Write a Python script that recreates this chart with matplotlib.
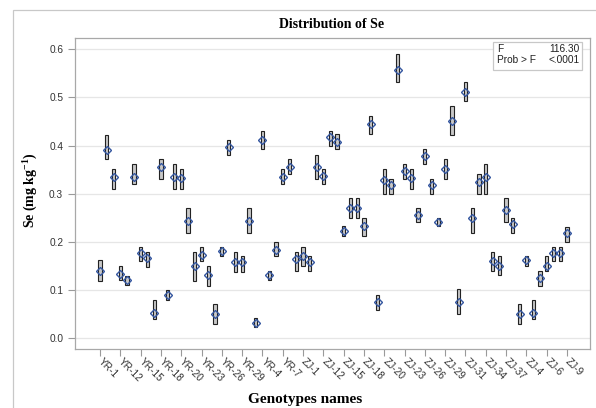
import matplotlib
matplotlib.use("Agg")
import matplotlib.pyplot as plt
import matplotlib.transforms as mtransforms
from matplotlib.patches import Rectangle

plt.rcParams['font.family'] = ['Liberation Sans', 'DejaVu Sans']
plt.rcParams['mathtext.fontset'] = 'custom'
plt.rcParams['mathtext.rm'] = 'Liberation Serif:bold'
plt.rcParams['mathtext.default'] = 'rm'

# genotypes in SAS sort order
genotypes = ['YR-1', 'YR-10', 'YR-11', 'YR-12', 'YR-13', 'YR-14', 'YR-15', 'YR-16', 'YR-17', 'YR-18',
             'YR-19', 'YR-2', 'YR-20', 'YR-21', 'YR-22', 'YR-23', 'YR-24', 'YR-25', 'YR-26', 'YR-27',
             'YR-28', 'YR-29', 'YR-3', 'YR-30', 'YR-4', 'YR-5', 'YR-6', 'YR-7', 'YR-8', 'YR-9',
             'ZJ-1', 'ZJ-10', 'ZJ-11', 'ZJ-12', 'ZJ-13', 'ZJ-14', 'ZJ-15', 'ZJ-16', 'ZJ-17', 'ZJ-18',
             'ZJ-19', 'ZJ-2', 'ZJ-20', 'ZJ-21', 'ZJ-22', 'ZJ-23', 'ZJ-24', 'ZJ-25', 'ZJ-26', 'ZJ-27',
             'ZJ-28', 'ZJ-29', 'ZJ-3', 'ZJ-30', 'ZJ-31', 'ZJ-32', 'ZJ-33', 'ZJ-34', 'ZJ-35', 'ZJ-36',
             'ZJ-37', 'ZJ-38', 'ZJ-39', 'ZJ-4', 'ZJ-40', 'ZJ-5', 'ZJ-6', 'ZJ-7', 'ZJ-8', 'ZJ-9']

mean_se = [0.140, 0.391, 0.334, 0.132, 0.120, 0.334, 0.176, 0.167, 0.052, 0.356,
           0.089, 0.334, 0.332, 0.243, 0.150, 0.172, 0.131, 0.049, 0.181, 0.397,
           0.157, 0.157, 0.243, 0.032, 0.412, 0.130, 0.183, 0.334, 0.356, 0.164,
           0.170, 0.157, 0.356, 0.337, 0.418, 0.408, 0.223, 0.271, 0.271, 0.232,
           0.445, 0.075, 0.329, 0.318, 0.558, 0.348, 0.332, 0.255, 0.378, 0.317,
           0.241, 0.352, 0.452, 0.075, 0.512, 0.250, 0.325, 0.334, 0.160, 0.150,
           0.265, 0.236, 0.049, 0.161, 0.052, 0.124, 0.150, 0.176, 0.176, 0.218]

low_se = [0.119, 0.371, 0.309, 0.120, 0.110, 0.321, 0.160, 0.148, 0.040, 0.330,
          0.079, 0.309, 0.309, 0.219, 0.119, 0.159, 0.108, 0.029, 0.170, 0.381,
          0.138, 0.138, 0.219, 0.022, 0.392, 0.120, 0.170, 0.321, 0.341, 0.139,
          0.150, 0.139, 0.330, 0.321, 0.400, 0.392, 0.211, 0.250, 0.250, 0.211,
          0.423, 0.059, 0.300, 0.300, 0.532, 0.330, 0.309, 0.240, 0.362, 0.300,
          0.232, 0.330, 0.421, 0.049, 0.492, 0.219, 0.300, 0.300, 0.139, 0.131,
          0.240, 0.219, 0.029, 0.150, 0.040, 0.108, 0.139, 0.159, 0.159, 0.200]

high_se = [0.161, 0.421, 0.351, 0.150, 0.129, 0.362, 0.190, 0.179, 0.079, 0.371,
           0.099, 0.362, 0.351, 0.270, 0.179, 0.190, 0.150, 0.070, 0.190, 0.412,
           0.179, 0.170, 0.270, 0.042, 0.431, 0.139, 0.200, 0.351, 0.371, 0.179,
           0.190, 0.170, 0.381, 0.351, 0.431, 0.423, 0.232, 0.291, 0.291, 0.250,
           0.461, 0.089, 0.351, 0.330, 0.591, 0.362, 0.351, 0.270, 0.392, 0.330,
           0.249, 0.371, 0.482, 0.101, 0.532, 0.270, 0.341, 0.362, 0.179, 0.170,
           0.291, 0.250, 0.070, 0.170, 0.079, 0.139, 0.170, 0.190, 0.190, 0.230]

fig = plt.figure(figsize=(5.96, 4.08), dpi=100)
ax = fig.add_axes([75 / 596, 1 - 348.5 / 408, 515 / 596, 310.2 / 408])

x = list(range(len(genotypes)))
heights = [h - l for h, l in zip(high_se, low_se)]
ax.bar(x, heights, bottom=low_se, width=0.48, color='#c8c8c8', edgecolor='#222222',
       linewidth=0.8, zorder=2)
ax.plot(x, mean_se, linestyle='none', marker='D', markersize=4.2,
        markerfacecolor='none', markeredgecolor='#3557a0', markeredgewidth=1.0, zorder=3)

ax.set_xlim(-3.7, 72.4)
ax.set_ylim(-0.022, 0.623)
ax.set_yticks([0.0, 0.1, 0.2, 0.3, 0.4, 0.5, 0.6])
ax.set_yticklabels(['0.0', '0.1', '0.2', '0.3', '0.4', '0.5', '0.6'])
ax.yaxis.grid(True, color='#e6e6e6', linewidth=0.9, zorder=0)
ax.set_axisbelow(True)

tick_pos = x[::3]
ax.set_xticks(tick_pos)
ax.set_xticklabels([genotypes[i] for i in tick_pos], rotation=-45, ha='left',
                   va='center', rotation_mode='anchor')
shift = mtransforms.ScaledTranslation(-5 / 100, -2 / 100, fig.dpi_scale_trans)
for lab in ax.get_xticklabels():
    lab.set_transform(lab.get_transform() + shift)

for s in ax.spines.values():
    s.set_color('#a8a8a8')
    s.set_linewidth(0.9)
ax.tick_params(axis='both', colors='#9a9a9a', labelcolor='#333333', labelsize=7.3,
               length=5, width=0.8)
ax.tick_params(axis='x', pad=3)

# F statistic inset
ax.add_patch(Rectangle((0.812, 0.898), 0.172, 0.091, transform=ax.transAxes,
                       facecolor='white', edgecolor='#c8c8c8', linewidth=0.9, zorder=4))
ax.text(0.819, 0.982, 'F\nProb > F', transform=ax.transAxes, ha='left', va='top',
        fontsize=7.3, color='#222222', linespacing=1.2, zorder=5)
ax.text(0.979, 0.982, '116.30\n<.0001', transform=ax.transAxes, ha='right', va='top',
        fontsize=7.3, color='#222222', linespacing=1.2, zorder=5)

fig.text(332 / 596, 1 - 24 / 408, 'Distribution of Se', ha='center', va='center',
         fontsize=10, fontweight='bold', family='Liberation Serif')
fig.text(305 / 596, 1 - 399 / 408, 'Genotypes names', ha='center', va='center',
         fontsize=11, fontweight='bold', family='Liberation Serif')
fig.text(31 / 596, 1 - 190 / 408, r'Se (mg kg$^{-1}$)', ha='center', va='center',
         rotation=90, fontsize=10, fontweight='bold', family='Liberation Serif')

# outer graph frame
fig.patches.append(Rectangle((13 / 596, -0.01), 1.0, 1 - 10 / 408 + 0.01,
                             transform=fig.transFigure, fill=False,
                             edgecolor='#c8c8c8', linewidth=0.9))

fig.savefig('out.png', dpi=100)
